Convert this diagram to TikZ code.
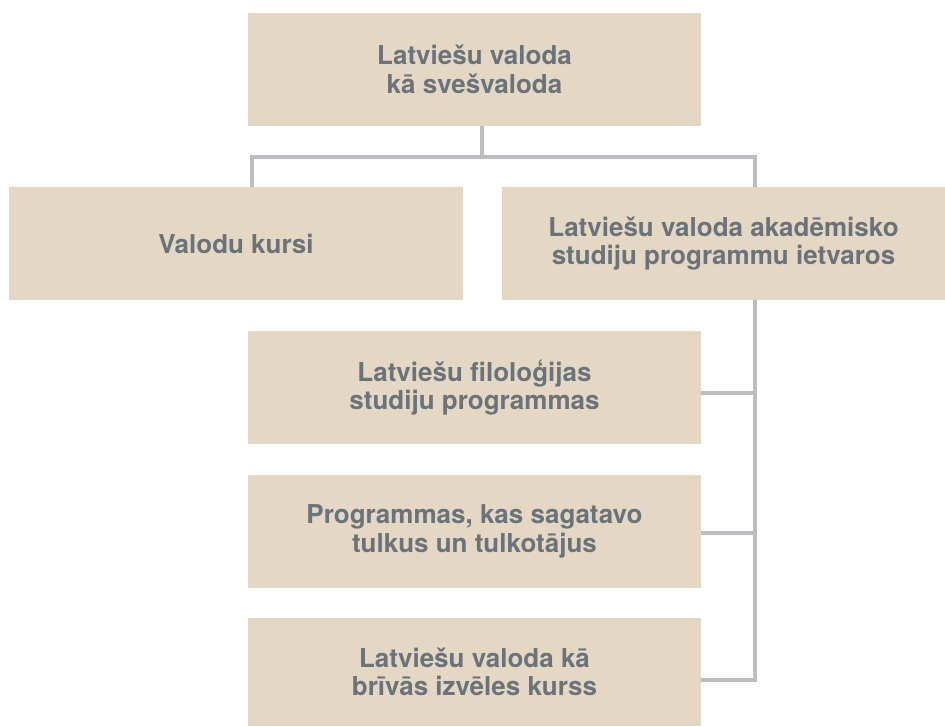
\documentclass[tikz,border=0pt]{standalone}
\usepackage{fontspec}
\setmainfont{TeX Gyre Heros}
\usetikzlibrary{backgrounds}
\definecolor{boxfill}{HTML}{E4D8C4}
\definecolor{txt}{HTML}{6A737A}
\definecolor{linec}{HTML}{BCBDC0}
\begin{document}
\begin{tikzpicture}[x=1pt,y=-1pt,
  box/.style={rectangle, fill=boxfill, draw=none, text=txt, align=center,
    font=\bfseries\fontsize{26}{28.5}\selectfont, inner sep=0pt},
  conn/.style={draw=linec, line width=4pt}]
\useasboundingbox (0,0) rectangle (945,726);
% boxes
\node[box, minimum width=453pt, minimum height=113pt] (top) at (474.5,69.5) {Latviešu valoda\\kā svešvaloda};
\node[box, minimum width=454pt, minimum height=113pt] (kursi) at (236,243.5) {Valodu kursi};
\node[box, minimum width=443pt, minimum height=113pt] (akad) at (723.5,243.5) {Latviešu valoda akadēmisko\\studiju programmu ietvaros};
\node[box, minimum width=453pt, minimum height=113pt] (filo) at (474.5,387.5) {Latviešu filoloģijas\\studiju programmas};
\node[box, minimum width=453pt, minimum height=113pt] (prog) at (474.5,531.5) {Programmas, kas sagatavo\\tulkus un tulkotājus};
\node[box, minimum width=453pt, minimum height=108pt] (briv) at (474.5,672) {Latviešu valoda kā\\brīvās izvēles kurss};
\coordinate (lx) at (252,0);
\coordinate (vx) at (755,0);
\coordinate (jt) at (482,157);
\coordinate (jb) at (755,680);
% connectors, behind the boxes
\begin{scope}[on background layer]
\draw[conn] (jt |- top.south) -- (jt);
\draw[conn] (kursi.north -| lx) |- (jt -| vx) -- (akad.south -| vx) -- (jb) -- (jb -| briv.east);
\draw[conn] (filo.east |- 0,393) -- (vx |- 0,393);
\draw[conn] (prog.east |- 0,533) -- (vx |- 0,533);
\end{scope}
\end{tikzpicture}
\end{document}
